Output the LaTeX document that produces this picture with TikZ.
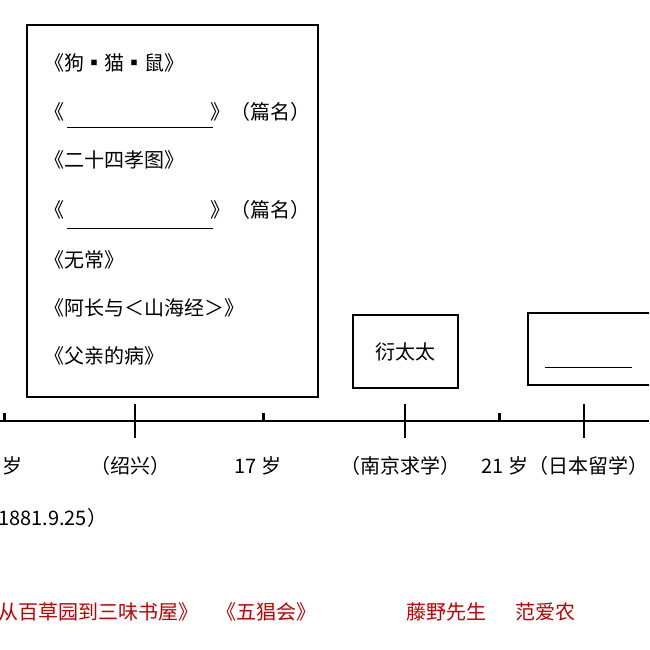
\documentclass[tikz,border=0pt]{standalone}
\usepackage{fontspec}
\setmainfont{Liberation Serif}
\newfontfamily\cjk{Noto Sans CJK SC}
\begin{document}
\begin{tikzpicture}[x=1pt,y=-1pt,
  txt/.style={font=\cjk\fontsize{20}{24}\selectfont,inner sep=0pt},
  red/.style={txt,text=red!75!black},
  bx/.style={draw,line width=1.4pt}]
\useasboundingbox (0,0) rectangle (649,650);
\clip (0,0) rectangle (649,650);
\draw[bx] (27,25) rectangle (318,397);
\foreach \t/\y [count=\i] in {《狗▪猫▪鼠》/63,《\hspace{7.3em}》（篇名）/112,《二十四孝图》/160,《\hspace{7.3em}》（篇名）/210,《无常》/260,《阿长与＜山海经＞》/308,《父亲的病》/356}
  \node[txt,anchor=west] (l\i) at (44,\y) {\t};
\draw[line width=1pt] (67,128) -- (213,128);
\draw[line width=1pt] (67,228) -- (213,228);
\node[bx,minimum width=105pt,minimum height=73pt,txt] (yan) at (405.5,351.5) {衍太太};
\node[bx,minimum width=150pt,minimum height=72pt] (rb) at (603,349) {};
\draw[line width=1pt] (545,367) -- (632,367);
\draw[line width=2pt] (0,421) -- (649,421);
\foreach \x in {135,405,584} \draw[line width=1.4pt] (\x,404) -- (\x,438);
\foreach \x in {4,263,499} \draw[line width=3pt] (\x,413) -- (\x,421);
\node[txt,anchor=west] (a0) at (2,466) {岁};
\node[txt] (a1) at (130,466) {（绍兴）};
\node[txt] (a2) at (258,466) {17 岁};
\node[txt] (a3) at (400,466) {（南京求学）};
\node[txt] (a4) at (565,466) {21 岁（日本留学）};
\node[txt,anchor=west] (a5) at (-2,518) {1881.9.25）};
\node[red,anchor=west] (r1) at (-2,612) {从百草园到三味书屋》};
\node[red] (r2) at (266,612) {《五猖会》};
\node[red] (r3) at (446,612) {藤野先生};
\node[red] (r4) at (545,612) {范爱农};
\end{tikzpicture}
\end{document}
